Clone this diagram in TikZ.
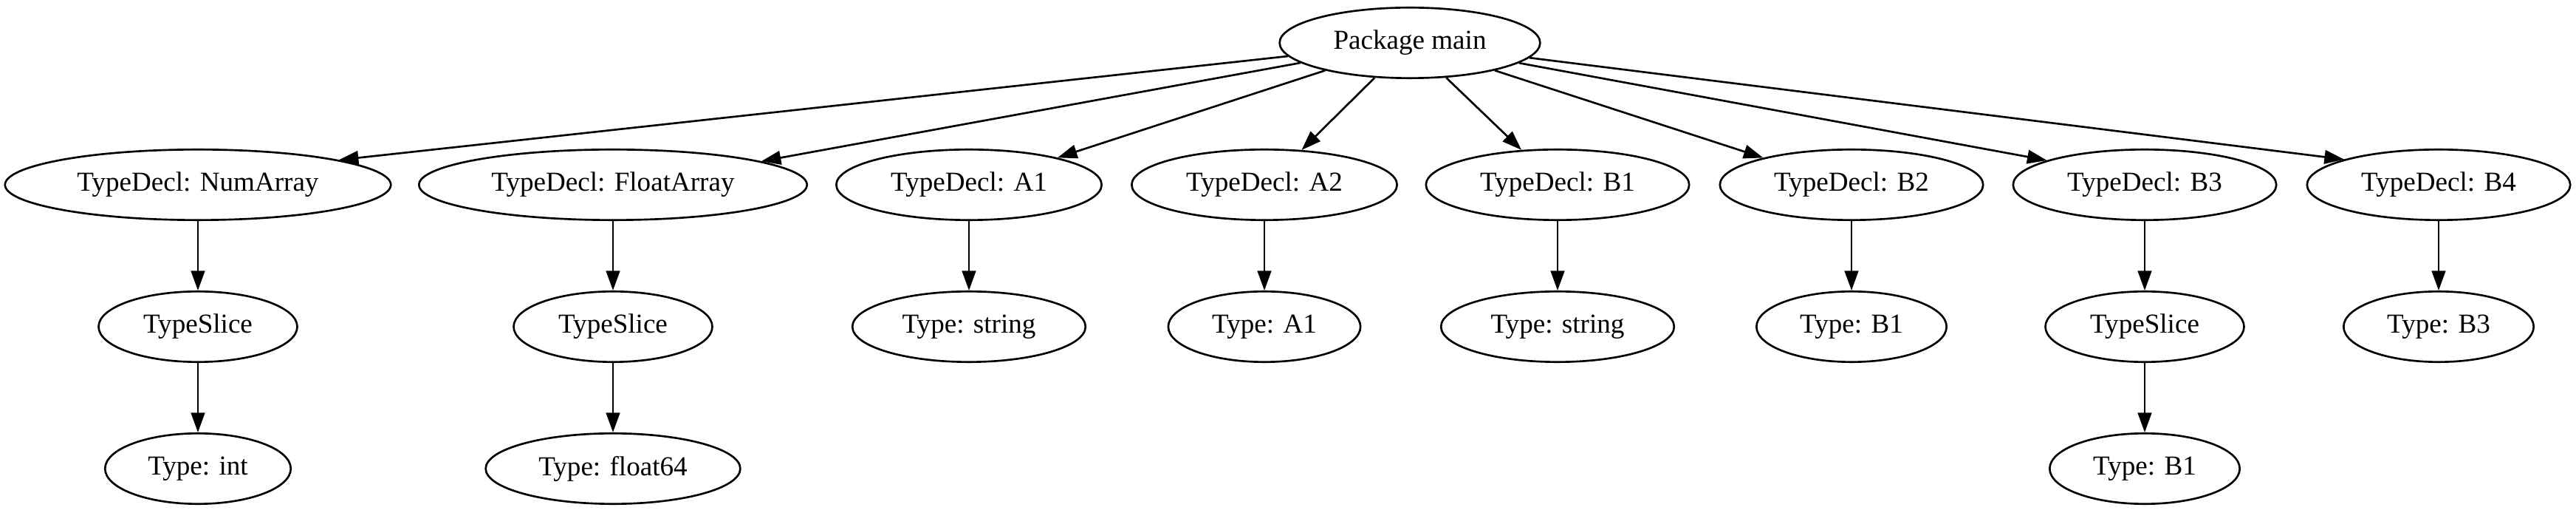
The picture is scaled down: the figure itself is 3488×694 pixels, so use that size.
\documentclass[tikz,border=0pt]{standalone}
\usepackage{fontspec}
\setmainfont{Liberation Serif}
\usetikzlibrary{shapes.geometric,arrows.meta}

\begin{document}
\begin{tikzpicture}[x=0.3774pt,y=-0.3774pt,
        ast/.style={draw,ellipse,line width=1pt,font=\fontsize{14}{16}\selectfont,
            inner xsep=8pt,inner ysep=2pt,minimum height=36pt},
        astarrow/.style={line width=1pt,-{Triangle[length=10pt,width=7pt]}}]
                \useasboundingbox (0,0) rectangle (3488,694);
                % package
                \node[ast] (main) at (1909,58) {Package main};
                % type declarations
                \node[ast] (numarray) at (268,250) {TypeDecl: NumArray};
                \node[ast] (floatarray) at (830,250) {TypeDecl: FloatArray};
                \node[ast] (declA1) at (1312,250) {TypeDecl: A1};
                \node[ast] (declA2) at (1712,250) {TypeDecl: A2};
                \node[ast] (declB1) at (2109,250) {TypeDecl: B1};
                \node[ast] (declB2) at (2507,250) {TypeDecl: B2};
                \node[ast] (declB3) at (2904,250) {TypeDecl: B3};
                \node[ast] (declB4) at (3302,250) {TypeDecl: B4};
                % types
                \node[ast] (numslice) at (268,442) {TypeSlice};
                \node[ast] (floatslice) at (830,442) {TypeSlice};
                \node[ast] (typeA1) at (1312,442) {Type: string};
                \node[ast] (typeA2) at (1712,442) {Type: A1};
                \node[ast] (typeB1) at (2109,442) {Type: string};
                \node[ast] (typeB2) at (2507,442) {Type: B1};
                \node[ast] (sliceB3) at (2904,442) {TypeSlice};
                \node[ast] (typeB4) at (3302,442) {Type: B3};
                % element types
                \node[ast] (numelem) at (268,634) {Type: int};
                \node[ast] (floatelem) at (830,634) {Type: float64};
                \node[ast] (elemB3) at (2904,634) {Type: B1};
                %\draw[red] (0,0) rectangle (3488,694);
                \draw[astarrow] (main) -- (numarray.10);
                \draw[astarrow] (main) -- (floatarray.9);
                \draw[astarrow] (main) -- (declA1.17);
                \draw[astarrow] (main) -- (declA2.43);
                \draw[astarrow] (main) -- (declB1.136);
                \draw[astarrow] (main) -- (declB2.163);
                \draw[astarrow] (main) -- (declB3.166);
                \draw[astarrow] (main) -- (declB4.165);
                \draw[astarrow] (numarray) -- (numslice);
                \draw[astarrow] (floatarray) -- (floatslice);
                \draw[astarrow] (declA1) -- (typeA1);
                \draw[astarrow] (declA2) -- (typeA2);
                \draw[astarrow] (declB1) -- (typeB1);
                \draw[astarrow] (declB2) -- (typeB2);
                \draw[astarrow] (declB3) -- (sliceB3);
                \draw[astarrow] (declB4) -- (typeB4);
                \draw[astarrow] (numslice) -- (numelem);
                \draw[astarrow] (floatslice) -- (floatelem);
                \draw[astarrow] (sliceB3) -- (elemB3);
            \end{tikzpicture}
\end{document}
